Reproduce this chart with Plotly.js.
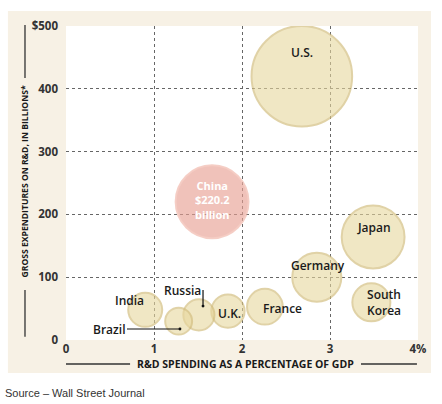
<!DOCTYPE html>
<html>
<head>
<meta charset="utf-8">
<script src="https://cdn.plot.ly/plotly-3.0.1.min.js"></script>
<style>
  html, body { margin: 0; padding: 0; background: #fff; }
  #chart { width: 442px; height: 404px; }
</style>
</head>
<body>
<div id="chart"></div>
<script>
// R&D spending (% of GDP) vs gross R&D expenditure ($ billions)
const countries = ['U.S.', 'China', 'Japan', 'Germany', 'South Korea', 'France', 'U.K.', 'Russia', 'Brazil', 'India'];
const gdpShare = [2.68, 1.66, 3.49, 2.85, 3.47, 2.26, 1.84, 1.51, 1.28, 0.90];
const spending = [420, 220.2, 164, 100, 60, 53, 46, 40, 30, 48];

const xTicks = [0, 1, 2, 3, 4];
const xTickText = ['0', '1', '2', '3', '4%'];
const yTicks = [0, 100, 200, 300, 400, 500];
const yTickText = ['0', '100', '200', '300', '400', '$500'];

const tan = 'rgba(232,215,157,0.85)';
const tanLine = 'rgba(210,189,124,0.95)';
const pink = 'rgba(232,160,146,0.9)';
const pinkLine = 'rgba(240,182,170,0.95)';

const labelFont = { family: 'Open Sans, sans-serif', size: 12, color: '#1a1a1a', weight: 600 };

const bubbles = {
    x: gdpShare,
    y: spending,
    mode: 'markers',
    type: 'scatter',
    hoverinfo: 'skip',
    marker: {
        size: spending,
        sizemode: 'area',
        sizeref: 0.083,
        color: countries.map((c) => c === 'China' ? pink : tan),
        line: {
            color: countries.map((c) => c === 'China' ? pinkLine : tanLine),
            width: 2
        }
    }
};

const idx = (name) => countries.indexOf(name);

// label placement, offsets in pixels from each bubble centre
const labelSpots = [
    { name: 'U.S.', dx: 0, dy: -24 },
    { name: 'Japan', dx: 1, dy: -10 },
    { name: 'Germany', dx: 1, dy: -12 },
    { name: 'South Korea', text: 'South<br>Korea', dx: 13, dy: 0 },
    { name: 'France', dx: 18, dy: 2 },
    { name: 'U.K.', dx: 2, dy: 2 },
    { name: 'India', dx: -16, dy: -9 }
];

const annotations = labelSpots.map((s) => ({
    x: gdpShare[idx(s.name)],
    y: spending[idx(s.name)],
    xref: 'x', yref: 'y',
    text: s.text || s.name,
    showarrow: false,
    xshift: s.dx, yshift: -s.dy,
    font: labelFont
}));

annotations.push({
    x: gdpShare[idx('China')],
    y: spending[idx('China')],
    xref: 'x', yref: 'y',
    text: 'China<br>$220.2<br>billion',
    showarrow: false,
    yshift: 2,
    font: { family: 'Open Sans, sans-serif', size: 11, color: '#fff', weight: 700 }
});

// leader lines with a dot on the bubble
annotations.push({
    x: gdpShare[idx('Russia')] + 0.047,
    y: spending[idx('Russia')] + 14,
    xref: 'x', yref: 'y',
    text: 'Russia',
    showarrow: true,
    arrowhead: 6, arrowsize: 0.6, arrowwidth: 1.2, arrowcolor: '#111',
    ax: 0, ay: -16,
    xanchor: 'right', yanchor: 'middle',
    font: labelFont
});

annotations.push({
    x: gdpShare[idx('Brazil')] + 0.015,
    y: spending[idx('Brazil')] - 12.5,
    xref: 'x', yref: 'y',
    text: 'Brazil',
    showarrow: true,
    arrowhead: 6, arrowsize: 0.6, arrowwidth: 1.2, arrowcolor: '#111',
    ax: -53, ay: 0,
    xanchor: 'right', yanchor: 'middle',
    font: labelFont
});

// axis titles and source
annotations.push({
    xref: 'paper', yref: 'paper', x: -0.1165, y: 0.505,
    xanchor: 'center', yanchor: 'middle',
    text: 'GROSS EXPENDITURES ON R&D, IN BILLIONS*',
    textangle: -90, showarrow: false,
    font: { family: 'Open Sans, sans-serif', size: 8.6, color: '#1a1a1a', weight: 700 }
});
annotations.push({
    xref: 'paper', yref: 'paper', x: 0.511, y: -0.0764,
    xanchor: 'center', yanchor: 'middle',
    text: 'R&D SPENDING AS A PERCENTAGE OF GDP',
    showarrow: false,
    font: { family: 'Open Sans, sans-serif', size: 10.5, color: '#1a1a1a', weight: 700 }
});
annotations.push({
    xref: 'paper', yref: 'paper', x: -0.18, y: -0.17,
    xanchor: 'left', yanchor: 'middle',
    text: 'Source – Wall Street Journal',
    showarrow: false,
    font: { family: 'Liberation Sans, Arial, sans-serif', size: 11, color: '#333' }
});

const deco = { color: '#333', width: 1.3 };
const shapes = [
    { type: 'rect', xref: 'paper', yref: 'paper', x0: -0.165, x1: 1.037, y0: -0.105, y1: 1.048,
      fillcolor: '#f7f1e5', line: { width: 0 }, layer: 'below' },
    { type: 'rect', xref: 'paper', yref: 'paper', x0: 0, x1: 1, y0: 0, y1: 1,
      fillcolor: '#ffffff', line: { width: 0 }, layer: 'below' },
    { type: 'line', xref: 'paper', yref: 'paper', x0: -0.1165, x1: -0.1165, y0: 0.834, y1: 1.003, line: deco },
    { type: 'line', xref: 'paper', yref: 'paper', x0: -0.1165, x1: -0.1165, y0: 0.01, y1: 0.159, line: deco },
    { type: 'line', xref: 'paper', yref: 'paper', x0: 0, x1: 0.182, y0: -0.0764, y1: -0.0764, line: deco },
    { type: 'line', xref: 'paper', yref: 'paper', x0: 0.838, x1: 0.997, y0: -0.0764, y1: -0.0764, line: deco }
];

const tickFont = { family: 'Open Sans, sans-serif', size: 11.5, color: '#333', weight: 700 };

const layout = {
    width: 442,
    height: 404,
    margin: { l: 66, r: 24, t: 26, b: 64 },
    paper_bgcolor: '#ffffff',
    plot_bgcolor: 'rgba(0,0,0,0)',
    showlegend: false,
    xaxis: {
        range: [0, 4],
        tickvals: xTicks,
        ticktext: xTickText,
        showgrid: true,
        gridcolor: '#666',
        griddash: 'dot',
        gridwidth: 1,
        zeroline: false,
        showline: false,
        ticks: '',
        ticklabelstandoff: 0,
        tickfont: tickFont,
        fixedrange: true
    },
    yaxis: {
        range: [0, 500],
        tickvals: yTicks,
        ticktext: yTickText,
        showgrid: true,
        gridcolor: '#666',
        griddash: 'dot',
        gridwidth: 1,
        zeroline: false,
        showline: false,
        ticks: '',
        ticklabelstandoff: 7,
        tickfont: tickFont,
        fixedrange: true
    },
    shapes: shapes,
    annotations: annotations
};

Plotly.newPlot('chart', [bubbles], layout, { displayModeBar: false, staticPlot: true });
</script>
</body>
</html>
